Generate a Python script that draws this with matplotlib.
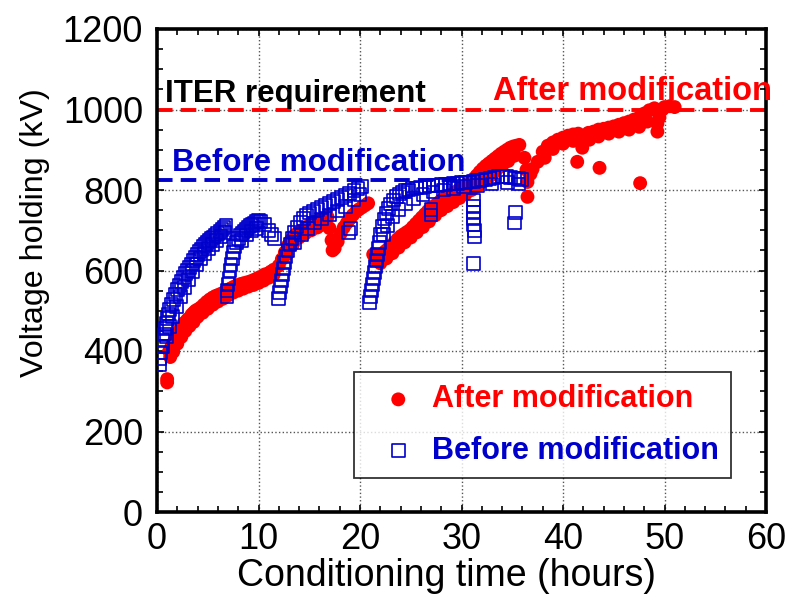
import matplotlib
matplotlib.use("Agg")
import matplotlib.pyplot as plt
from matplotlib.ticker import MultipleLocator

plt.rcParams['font.family'] = ['Liberation Sans', 'DejaVu Sans']

# ---------------- data ----------------
after_t = [1.0, 1.0,
           1.2, 1.4, 1.6, 1.8, 2.0, 2.2, 2.4, 2.6, 2.8, 3.0, 3.2, 3.4, 3.6, 3.8, 4.0, 4.3, 4.6, 4.9,
           5.2, 5.5, 5.8, 6.1, 6.4, 6.7, 7.0, 7.3, 7.6, 7.9, 8.2, 8.5, 8.8, 9.1, 9.4, 9.7, 10.0,
           10.3, 10.6, 10.9, 11.2, 11.5,
           1.3, 1.6, 2.0, 2.4, 2.8, 3.2, 3.6, 4.0, 4.5, 5.0, 5.5, 6.0, 6.5, 7.0, 7.5, 8.0, 8.5,
           9.0, 9.5, 10.0, 10.5, 11.0, 11.5,
           12.0, 12.3, 12.6, 12.9, 13.2, 13.5, 13.8, 14.1, 14.4, 14.7, 15.0, 15.3, 15.6, 15.9,
           16.2, 16.5, 16.8, 17.0, 17.2, 17.3,
           12.8, 13.4, 14.0, 14.6, 15.2, 15.8, 16.4,
           17.5, 17.8, 18.1, 18.4, 18.7, 19.0, 19.3, 19.6, 19.9, 20.2, 20.5, 20.8,
           21.3, 21.6, 21.9, 22.2, 22.5, 22.8, 23.1, 23.4, 23.7, 24.0, 24.3, 24.6, 24.9, 25.2,
           25.5, 25.8, 26.1, 26.4, 26.7, 27.0, 27.3, 27.6, 27.9, 28.2, 28.5, 28.8, 29.1, 29.4,
           29.7, 30.0, 30.3, 30.6, 30.9, 31.2, 31.5, 31.8, 32.1, 32.4, 32.7, 33.0, 33.3, 33.6,
           33.9, 34.2, 34.5, 34.8, 35.1, 35.4, 35.7,
           22.0, 22.6, 23.2, 23.8, 24.4, 25.0, 25.6, 26.2, 26.8, 27.4, 28.0, 28.6, 29.2, 29.8,
           30.4, 31.0, 31.6, 32.2, 32.8, 33.4, 34.0, 34.6, 35.2,
           36.2, 36.4, 36.5, 36.8, 37.0,
           37.5, 38.0, 38.5, 39.0, 39.5, 40.0, 40.5, 41.0, 41.5, 41.9, 42.0, 42.5, 43.0, 43.5,
           44.0, 44.5, 45.0, 45.5, 46.0, 46.5, 47.0, 47.5, 48.0, 48.5, 49.0, 49.3, 49.3, 49.5,
           49.8, 50.0, 50.5, 51.0,
           38.2, 39.0, 40.0, 41.0, 42.6, 43.5, 44.5, 45.5, 46.5, 47.5, 48.3,
           41.4, 43.6, 47.6, 36.5]
after_v = [330, 322,
           400, 410, 420, 430, 440, 450, 460, 468, 472, 478, 482, 490, 495, 500, 503, 508, 515, 522,
           528, 533, 537, 540, 543, 548, 552, 556, 560, 563, 566, 568, 570, 572, 575, 578, 582,
           585, 590, 592, 597, 602,
           385, 398, 418, 435, 450, 462, 472, 485, 495, 505, 515, 523, 530, 538, 545, 550, 555,
           560, 564, 569, 575, 582, 590,
           612, 628, 645, 662, 676, 686, 692, 697, 702, 707, 712, 715, 719, 723,
           727, 730, 733, 705, 675, 650,
           640, 665, 682, 692, 700, 707, 714,
           655, 672, 692, 707, 718, 728, 738, 746, 752, 757, 762, 767,
           640, 625, 630, 640, 648, 655, 662, 670, 678, 685, 690, 695, 700, 708,
           716, 724, 732, 740, 748, 755, 760, 766, 772, 778, 782, 786, 790, 795,
           800, 805, 810, 815, 820, 828, 836, 845, 853, 860, 866, 872, 878, 884,
           890, 895, 900, 905, 908, 910, 912,
           618, 630, 643, 657, 670, 682, 695, 708, 722, 737, 750, 760, 770, 780,
           790, 800, 810, 822, 835, 848, 860, 872, 885,
           880, 850, 820, 840, 852,
           870, 895, 910, 918, 925, 930, 935, 938, 940, 905, 930, 942, 945, 950,
           952, 955, 958, 962, 966, 970, 975, 980, 990, 998, 1003, 945, 965, 980,
           1000, 1006, 1008, 1006,
           880, 902, 915, 922, 925, 933, 940, 945, 950, 957, 970,
           870, 855, 817, 783]

before_t = [0.3, 0.3, 0.4, 0.5, 0.6, 0.7, 0.8, 0.9, 1.0, 1.1, 1.2, 1.4, 1.6, 1.8, 2.0, 2.2, 2.4,
            2.6, 2.8, 3.0, 3.2, 3.4, 3.6, 3.8, 4.0, 4.2, 4.4, 4.6, 4.8, 5.0, 5.2, 5.4, 5.6, 5.8,
            6.0, 6.2, 6.4, 6.6, 6.8,
            0.6, 0.9, 1.2, 1.5, 1.9, 2.3, 2.7, 3.1, 3.5, 3.9, 4.3, 4.7, 5.1, 5.5, 5.9, 6.3, 6.7,
            6.9, 6.9, 7.0, 7.1, 7.2, 7.3, 7.4, 7.5, 7.6, 7.8, 8.0, 8.2, 8.4, 8.6, 8.8, 9.0, 9.2,
            9.4, 9.6, 9.8, 10.0, 10.2, 10.6, 11.0, 11.3, 11.6,
            8.3, 8.8, 9.3, 9.8,
            12.0, 12.1, 12.2, 12.3, 12.4, 12.5, 12.6, 12.7, 12.9, 13.1, 13.3, 13.5, 13.8, 14.1,
            14.4, 14.7, 15.0, 15.4, 15.8, 16.2, 16.6, 17.0, 17.4, 17.8, 18.2, 18.6, 19.0, 19.4,
            19.8, 20.2,
            13.6, 14.2, 14.8, 15.5, 16.2, 17.0, 17.8, 18.6, 19.4, 20.0,
            18.9, 19.1,
            20.9, 21.0, 21.1, 21.2, 21.3, 21.4, 21.5, 21.6, 21.7, 21.8, 21.9, 22.0, 22.2, 22.4,
            22.6, 22.8, 23.0, 23.3, 23.6, 23.9, 24.2, 24.5, 24.8, 25.2, 25.6, 26.0, 26.4, 26.8,
            27.2, 27.6, 28.0, 28.4, 28.8, 29.2, 29.6, 30.0, 30.4, 30.8, 31.2, 31.6, 32.0, 32.4,
            32.8, 33.2, 33.6, 34.0, 34.4, 34.8, 35.2, 35.6, 35.9,
            22.3, 22.7, 23.2, 23.8, 24.5, 25.3, 26.2, 27.2, 28.2, 29.2, 30.2, 31.6, 33.0, 34.5,
            35.6,
            27.0, 27.0, 31.2, 31.2, 31.2, 31.2, 31.2, 31.3, 31.3, 31.2, 35.3, 35.2]
before_v = [365, 382, 397, 412, 427, 442, 456, 469, 481, 492, 503, 516, 528, 540, 552, 563, 573,
            583, 592, 600, 608, 616, 624, 632, 640, 647, 653, 659, 665, 670, 675, 679, 683, 688,
            692, 697, 702, 707, 711,
            410, 435, 460, 485, 510, 535, 558, 578, 598, 615, 630, 643, 655, 665, 675, 685, 695,
            535, 550, 565, 580, 600, 615, 630, 645, 660, 670, 680, 688, 693, 698, 703, 708, 712,
            715, 718, 722, 725, 722, 715, 700, 690, 680,
            675, 688, 698, 705,
            530, 545, 560, 575, 590, 605, 620, 635, 650, 665, 680, 695, 708, 720,
            730, 737, 743, 748, 752, 757, 762, 767, 772, 777, 782, 787, 792, 798,
            803, 808,
            670, 690, 705, 718, 728, 738, 748, 760, 775, 788,
            695, 705,
            520, 535, 550, 565, 580, 595, 610, 625, 640, 655, 670, 690, 710, 728,
            742, 755, 765, 775, 783, 790, 795, 798, 800, 803, 805, 807, 809, 810,
            811, 812, 813, 814, 815, 816, 817, 818, 819, 820, 821, 823, 825, 827,
            829, 831, 833, 834, 834, 832, 830, 828, 826,
            690, 712, 735, 752, 765, 778, 788, 795, 800, 804, 808, 812, 815, 818,
            815,
            738, 752, 775, 760, 745, 730, 715, 700, 683, 618, 745, 718]

iter_requirement = 1000
before_level = 825
x_ticks = [0, 10, 20, 30, 40, 50, 60]
y_ticks = [0, 200, 400, 600, 800, 1000, 1200]

RED = '#ff0000'
BLUE = '#0000cc'

fig = plt.figure(figsize=(7.85, 6.03), dpi=100)
ax = fig.add_axes([157/785, 1 - 512/603, (766-157)/785, (512-29)/603])

ax.plot([0, 60], [iter_requirement, iter_requirement], color=RED, lw=2.8,
        dashes=(4.0, 2.1), zorder=2)
ax.plot([0, 31], [before_level, before_level], color=BLUE, lw=2.8,
        dashes=(4.0, 2.1), zorder=2)

ax.scatter(after_t, after_v, s=100, marker='o', color=RED, edgecolors='none', zorder=3,
           label='After modification')
ax.scatter(before_t, before_v, s=85, marker='s', facecolors='none', edgecolors=BLUE,
           linewidths=1.2, zorder=4, label='Before modification')

ax.set_xlim(0, 60)
ax.set_ylim(0, 1200)
ax.set_xticks(x_ticks)
ax.set_yticks(y_ticks)
ax.xaxis.set_minor_locator(MultipleLocator(2))
ax.yaxis.set_minor_locator(MultipleLocator(50))
ax.tick_params(which='both', direction='in', top=True, right=True, width=1.2)
ax.tick_params(which='major', length=5, labelsize=26)
ax.tick_params(axis='x', which='major', pad=7)
ax.tick_params(axis='y', which='major', pad=10)
ax.tick_params(which='minor', length=4)
ax.grid(True, which='major', linestyle=':', color='#555555', lw=1.0)
for s in ax.spines.values():
    s.set_linewidth(2.6)

ax.set_xlabel('Conditioning time (hours)', fontsize=27)
ax.set_ylabel('Voltage holding (kV)', fontsize=23.2)
ax.xaxis.set_label_coords(0.476, -0.095)
ax.yaxis.set_label_coords(-0.176, 0.578)

ax.text(0.8, 1019, 'ITER requirement', fontsize=22.5, fontweight='bold', color='black',
        va='baseline', ha='left', zorder=5)
ax.text(33.1, 1023, 'After modification', fontsize=23.5, fontweight='bold', color=RED,
        va='baseline', ha='left', zorder=5, clip_on=False)
ax.text(1.5, 847, 'Before modification', fontsize=22.5, fontweight='bold', color=BLUE,
        va='baseline', ha='left', zorder=5)

leg = ax.legend(loc='lower right', bbox_to_anchor=(0.9425, 0.0704),
                frameon=True, fancybox=False, edgecolor='black', borderpad=0.4,
                handlelength=2.1, handletextpad=0.05, labelspacing=0.7, borderaxespad=0,
                prop={'weight': 'bold', 'size': 22})
leg.get_frame().set_linewidth(1.3)
for txt, c in zip(leg.get_texts(), [RED, BLUE]):
    txt.set_color(c)

fig.savefig('out.png', dpi=100)
